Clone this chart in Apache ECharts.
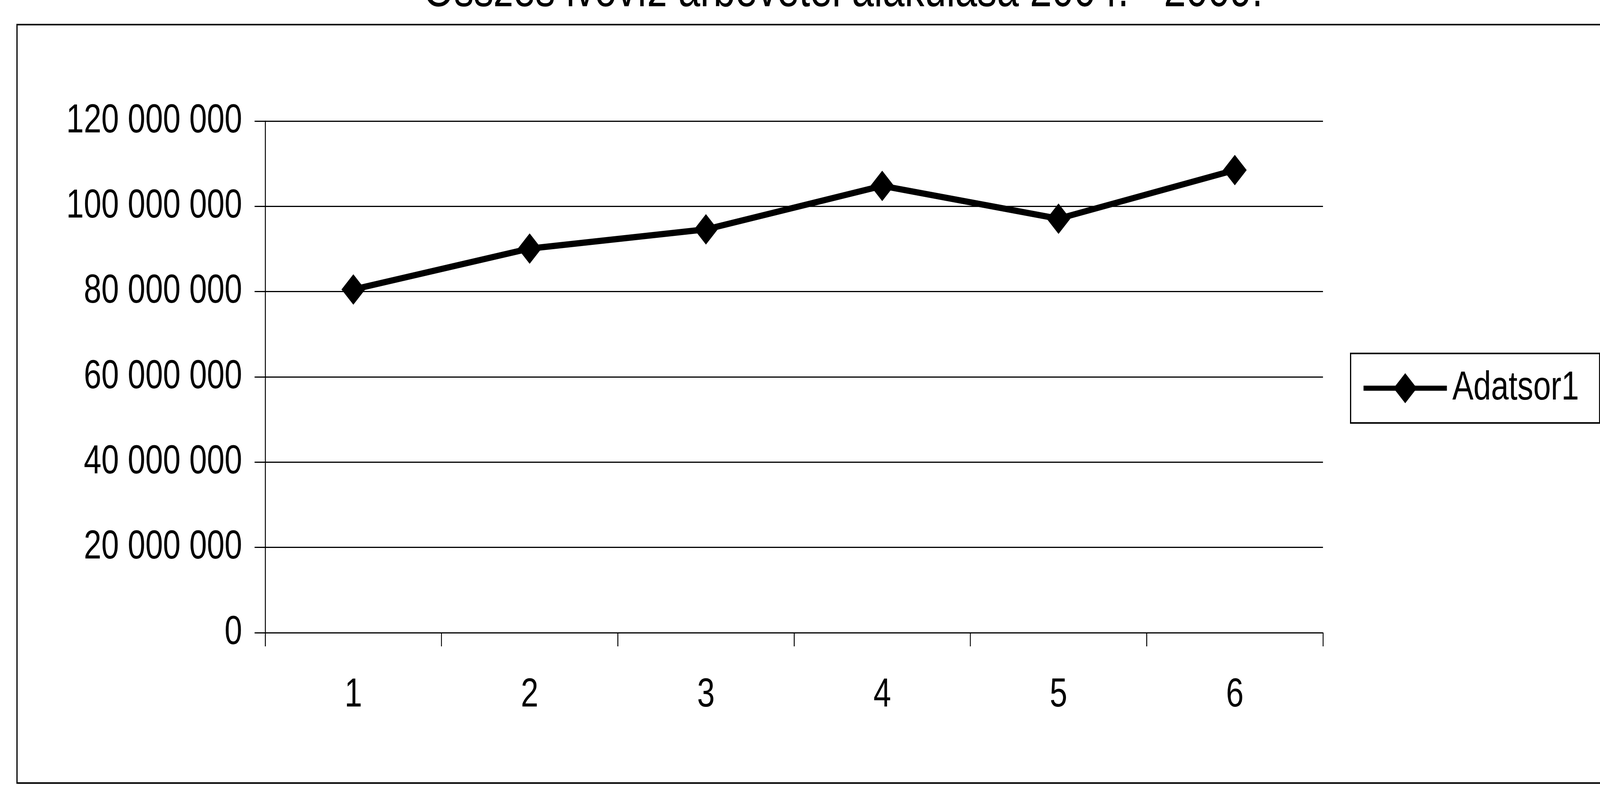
<!DOCTYPE html>
<html>
<head>
<meta charset="utf-8">
<script src="https://cdn.jsdelivr.net/npm/echarts@6/dist/echarts.min.js"></script>
<style>
  html, body { margin: 0; padding: 0; background: #ffffff; overflow: hidden; width: 100%; height: 100%; }
  #chart { position: absolute; left: 0; top: 0; width: 5261px; height: 2010px; transform-origin: 0 0; }
</style>
</head>
<body>
<div id="chart"></div>
<script>
// ---- data ----
const titleText = 'Összes ivóvíz árbevétel alakulása 2004. - 2009.';
const seriesName = 'Adatsor1';
const categories = ['1', '2', '3', '4', '5', '6'];
const revenue = [80500000, 90100000, 94600000, 104800000, 97100000, 108500000];
const yMin = 0;
const yMax = 120000000;
const yInterval = 20000000;

function fmt(n) {
  return String(n).replace(/\B(?=(\d{3})+(?!\d))/g, ' ');
}

// The chart is laid out on the reference's 5261 x 2010 frame and fitted to the window.
const REF_W = 5261, REF_H = 2010;
const el = document.getElementById('chart');
const sx = window.innerWidth / REF_W;
const sy = window.innerHeight / REF_H;
el.style.transform = 'scale(' + sx + ',' + sy + ')';

const FONT = '"Liberation Sans", Arial, sans-serif';
const chart = echarts.init(el, null, { renderer: 'canvas', width: REF_W, height: REF_H });

chart.setOption({
  backgroundColor: '#ffffff',
  animation: false,
  title: {
    text: titleText,
    left: 1392,
    top: -85,
    padding: 0,
    textStyle: { fontFamily: FONT, fontSize: 130, fontWeight: 'normal', color: '#000', lineHeight: 130 }
  },
  graphic: [{
    type: 'rect',
    shape: { x: 56, y: 63, width: 5400, height: 1942 },
    style: { fill: 'none', stroke: '#000', lineWidth: 4 },
    silent: true,
    z: -1
  }],
  legend: {
    orient: 'vertical',
    left: 4441,
    top: 905,
    padding: [37, 68, 37, 36],
    borderColor: '#000',
    borderWidth: 4,
    itemWidth: 274,
    itemHeight: 96,
    lineStyle: { width: 13, color: '#000' },
    textStyle: { fontFamily: FONT, fontSize: 104, color: '#000', padding: [0, 0, 0, 13] },
    data: [seriesName]
  },
  grid: { left: 872, right: 911, top: 310, bottom: 390, containLabel: false },
  xAxis: {
    type: 'category',
    data: categories,
    boundaryGap: true,
    axisLine: { show: true, lineStyle: { color: '#000', width: 3 } },
    axisTick: { show: true, length: 35, inside: false, lineStyle: { color: '#000', width: 3 } },
    axisLabel: { fontFamily: FONT, fontSize: 104, color: '#000', margin: 108 },
    splitLine: { show: false }
  },
  yAxis: {
    type: 'value',
    min: yMin,
    max: yMax,
    interval: yInterval,
    axisLine: { show: true, lineStyle: { color: '#000', width: 3 } },
    axisTick: { show: true, length: 35, inside: false, lineStyle: { color: '#000', width: 3 } },
    axisLabel: { fontFamily: FONT, fontSize: 104, color: '#000', margin: 76, formatter: fmt },
    splitLine: { show: true, lineStyle: { color: '#000', width: 3 } }
  },
  series: [{
    name: seriesName,
    type: 'line',
    data: revenue,
    symbol: 'diamond',
    symbolSize: 78,
    lineStyle: { color: '#000', width: 16 },
    itemStyle: { color: '#000' },
    z: 5
  }]
});
</script>
</body>
</html>
